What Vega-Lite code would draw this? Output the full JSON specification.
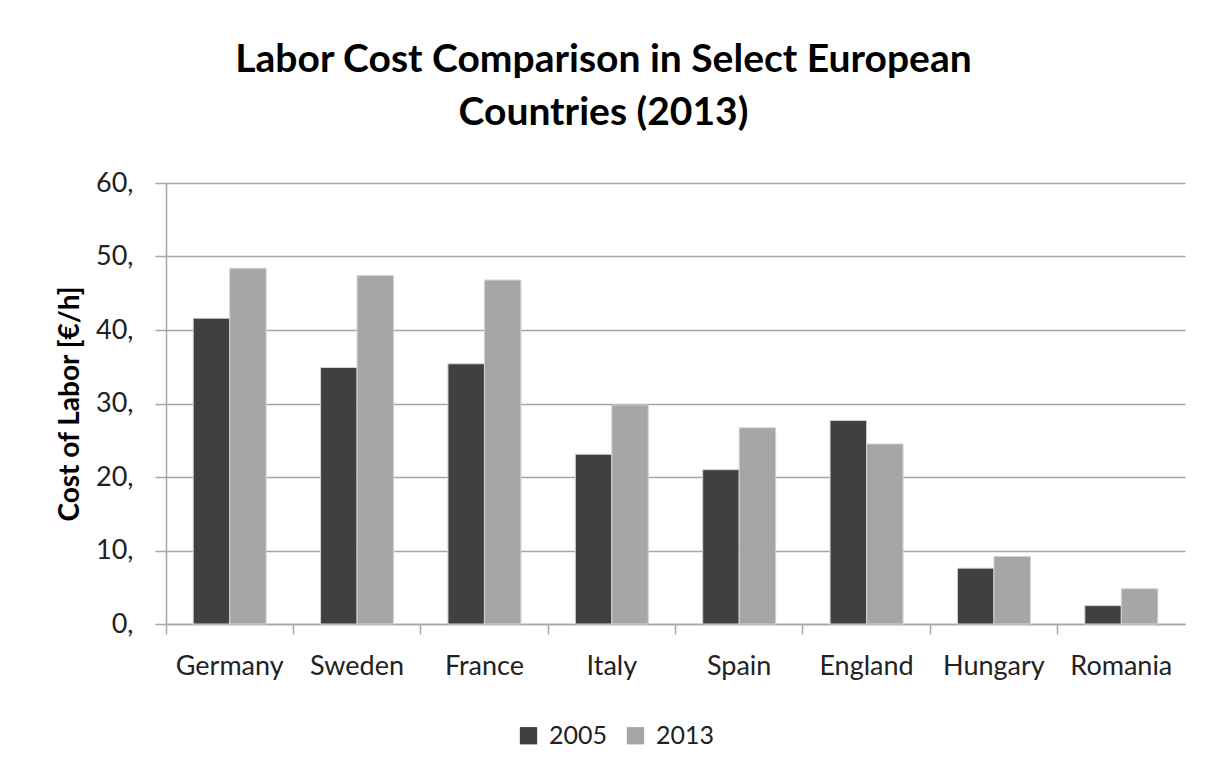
{
  "$schema": "https://vega.github.io/schema/vega-lite/v6.json",
  "autosize": {"type": "none"},
  "padding": {"left": 166, "top": 183, "right": 30, "bottom": 150},
  "width": 1019,
  "height": 441,
  "background": "white",
  "title": {
    "text": ["Labor Cost Comparison in Select European", "Countries (2013)"],
    "font": "Lato",
    "fontSize": 39,
    "fontWeight": "bold",
    "color": "#000000",
    "anchor": "middle",
    "dx": -72,
    "offset": 36,
    "lineHeight": 53
  },
  "data": {
    "values": [
      {"country": "Germany", "year": "2005", "cost": 41.6},
      {"country": "Germany", "year": "2013", "cost": 48.4},
      {"country": "Sweden", "year": "2005", "cost": 34.9},
      {"country": "Sweden", "year": "2013", "cost": 47.4},
      {"country": "France", "year": "2005", "cost": 35.4},
      {"country": "France", "year": "2013", "cost": 46.8},
      {"country": "Italy", "year": "2005", "cost": 23.1},
      {"country": "Italy", "year": "2013", "cost": 29.8},
      {"country": "Spain", "year": "2005", "cost": 21.0},
      {"country": "Spain", "year": "2013", "cost": 26.7},
      {"country": "England", "year": "2005", "cost": 27.7},
      {"country": "England", "year": "2013", "cost": 24.5},
      {"country": "Hungary", "year": "2005", "cost": 7.6},
      {"country": "Hungary", "year": "2013", "cost": 9.2},
      {"country": "Romania", "year": "2005", "cost": 2.5},
      {"country": "Romania", "year": "2013", "cost": 4.8}
    ]
  },
  "mark": {"type": "bar", "stroke": "#d4d4d4", "strokeWidth": 1},
  "encoding": {
    "x": {
      "field": "country",
      "type": "nominal",
      "sort": null,
      "scale": {"paddingInner": 0, "paddingOuter": 0},
      "axis": {
        "title": null,
        "labelAngle": 0,
        "labelFont": "Lato",
        "labelFontSize": 27,
        "labelColor": "#222222",
        "labelPadding": 19,
        "bandPosition": 0,
        "tickSize": 10,
        "tickColor": "#a6a6a6",
        "tickWidth": 1.5,
        "domainColor": "#a6a6a6",
        "domainWidth": 1.5,
        "grid": false
      }
    },
    "xOffset": {
      "field": "year",
      "type": "nominal",
      "scale": {"paddingInner": 0, "paddingOuter": 0.745}
    },
    "y": {
      "field": "cost",
      "type": "quantitative",
      "scale": {"domain": [0, 60], "nice": false},
      "axis": {
        "title": "Cost of Labor [€/h]",
        "titleFont": "Lato",
        "titleFontSize": 28,
        "titleFontWeight": "bold",
        "titleColor": "#000000",
        "titlePadding": 11,
        "values": [0, 10, 20, 30, 40, 50, 60],
        "labelExpr": "datum.value + ','",
        "labelFont": "Lato",
        "labelFontSize": 27,
        "labelColor": "#222222",
        "labelPadding": 22,
        "tickSize": 11,
        "tickColor": "#a6a6a6",
        "tickWidth": 1.5,
        "domainColor": "#a6a6a6",
        "domainWidth": 1.5,
        "gridColor": "#a6a6a6",
        "gridWidth": 1.5
      }
    },
    "color": {
      "field": "year",
      "type": "nominal",
      "scale": {"domain": ["2005", "2013"], "range": ["#404040", "#a6a6a6"]},
      "legend": {
        "title": null,
        "orient": "none",
        "direction": "horizontal",
        "legendX": 350,
        "legendY": 540,
        "symbolType": "square",
        "symbolSize": 300,
        "symbolStrokeWidth": 0,
        "labelFont": "Lato",
        "labelFontSize": 25,
        "labelColor": "#222222",
        "columnPadding": 15,
        "labelOffset": 8
      }
    }
  },
  "config": {
    "view": {"stroke": null}
  }
}
